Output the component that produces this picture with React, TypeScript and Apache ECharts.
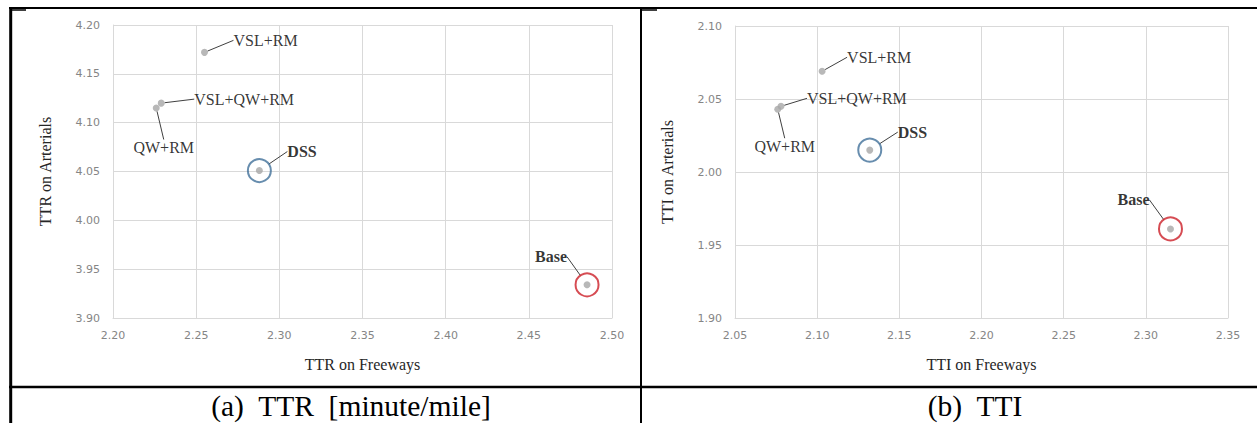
import React, { useEffect, useRef } from "react";
import * as echarts from "echarts";

// ---- data ----
const strategies = ["VSL+RM", "VSL+QW+RM", "QW+RM", "DSS", "Base"];
const ttrFreeways = [2.255, 2.229, 2.226, 2.288, 2.485];
const ttrArterials = [4.172, 4.12, 4.115, 4.051, 3.934];
const ttiFreeways = [2.103, 2.078, 2.076, 2.132, 2.315];
const ttiArterials = [2.069, 2.045, 2.043, 2.015, 1.961];

const ttrXTicks = [2.2, 2.25, 2.3, 2.35, 2.4, 2.45, 2.5];
const ttrYTicks = [3.9, 3.95, 4.0, 4.05, 4.1, 4.15, 4.2];
const ttiXTicks = [2.05, 2.1, 2.15, 2.2, 2.25, 2.3, 2.35];
const ttiYTicks = [1.9, 1.95, 2.0, 2.05, 2.1];

const captions = ["(a)  TTR  [minute/mile]", "(b)  TTI"];
const axisNames = [
  ["TTR on Freeways", "TTR on Arterials"],
  ["TTI on Freeways", "TTI on Arterials"],
];

// ---- styles / placement ----
const ringColors: Record<string, string> = { DSS: "#41709a", Base: "#cc1f28" };
const boldNames = ["DSS", "Base"];
const labelOffsets: [number, number, string][][] = [
  [[29, -12, "left"], [33, -4, "left"], [7.5, 39.5, "center"], [28, -19, "left"], [-20, -28, "right"]],
  [[25, -14, "left"], [26, -8, "left"], [7, 37, "center"], [28, -18, "left"], [-21, -29, "right"]],
];
const grids = [
  { left: 113, top: 25, width: 499, height: 293 },
  { left: 735, top: 26, width: 493, height: 292 },
];

const SERIF = "Liberation Serif";
const SANS = "DejaVu Sans";
const GRID = "#d9d9d9";

function makeAxis(ticks: number[], name: string, isY: boolean, idx: number) {
  return {
    type: "value",
    gridIndex: idx,
    min: ticks[0],
    max: ticks[ticks.length - 1],
    interval: 0.05,
    name,
    nameLocation: "middle",
    nameGap: isY ? 60 : 38.5,
    nameTextStyle: { fontFamily: SERIF, fontSize: 16, color: "#262626" },
    axisLine: { show: true, lineStyle: { color: GRID, width: 1 } },
    axisTick: { show: false },
    axisLabel: {
      margin: isY ? 13 : 12,
      fontFamily: SANS,
      fontSize: 11,
      color: "#858585",
      formatter: (v: number) => v.toFixed(2),
    },
    splitLine: { show: true, lineStyle: { color: GRID, width: 1 } },
  };
}

function makeSeries(xs: number[], ys: number[], idx: number) {
  const offs = labelOffsets[idx];
  const points = {
    type: "scatter",
    xAxisIndex: idx,
    yAxisIndex: idx,
    symbol: "circle",
    symbolSize: 7,
    itemStyle: { color: "#a6a6a6" },
    z: 2,
    silent: true,
    data: xs.map((x, i) => [x, ys[i]]),
  };
  const hosts = {
    type: "scatter",
    xAxisIndex: idx,
    yAxisIndex: idx,
    z: 3,
    silent: true,
    data: strategies.map((name, i) => {
      const ring = ringColors[name];
      return {
        name,
        value: [xs[i], ys[i]],
        symbol: "circle",
        symbolSize: ring ? 23 : 7,
        itemStyle: ring
          ? { color: "rgba(0,0,0,0)", borderColor: ring, borderWidth: 2 }
          : { color: "rgba(0,0,0,0)" },
        label: { fontWeight: boldNames.includes(name) ? "bold" : "normal" },
      };
    }),
    label: {
      show: true,
      formatter: "{b}",
      position: "inside",
      fontFamily: SERIF,
      fontSize: 16,
      color: "#000",
    },
    labelLine: { show: true, lineStyle: { color: "#404040", width: 1 } },
    labelLayout: (p: any) => {
      const o = offs[p.dataIndex];
      const cx = p.rect.x + p.rect.width / 2;
      const cy = p.rect.y + p.rect.height / 2;
      return { x: cx + o[0], y: cy + o[1], align: o[2], verticalAlign: "middle" };
    },
  };
  return [points, hosts];
}

export default function App() {
  const ref = useRef<HTMLDivElement>(null);
  useEffect(() => {
    if (!ref.current) return;
    const chart = echarts.init(ref.current, null, { renderer: "svg" });
    const option: any = {
      animation: false,
      backgroundColor: "#ffffff",
      grid: grids.map((g) => ({ ...g, containLabel: false })),
      xAxis: [
        makeAxis(ttrXTicks, axisNames[0][0], false, 0),
        makeAxis(ttiXTicks, axisNames[1][0], false, 1),
      ],
      yAxis: [
        makeAxis(ttrYTicks, axisNames[0][1], true, 0),
        makeAxis(ttiYTicks, axisNames[1][1], true, 1),
      ],
      series: [
        ...makeSeries(ttrFreeways, ttrArterials, 0),
        ...makeSeries(ttiFreeways, ttiArterials, 1),
      ],
      graphic: [
        // table borders
        { type: "line", silent: true, shape: { x1: 9, y1: 8, x2: 1257, y2: 8 }, style: { stroke: "#000", lineWidth: 2 } },
        { type: "line", silent: true, shape: { x1: 10.7, y1: 7, x2: 10.7, y2: 423 }, style: { stroke: "#000", lineWidth: 3 } },
        { type: "line", silent: true, shape: { x1: 641, y1: 8, x2: 641, y2: 423 }, style: { stroke: "#000", lineWidth: 2 } },
        { type: "line", silent: true, shape: { x1: 9, y1: 387, x2: 1257, y2: 387 }, style: { stroke: "#000", lineWidth: 2.5 } },
        { type: "line", silent: true, shape: { x1: 12, y1: 10, x2: 26, y2: 10 }, style: { stroke: "#000", lineWidth: 1.5 } },
        { type: "line", silent: true, shape: { x1: 642, y1: 10, x2: 657, y2: 10 }, style: { stroke: "#000", lineWidth: 1.5 } },
        {
          type: "text",
          silent: true,
          x: 351,
          y: 406,
          style: { text: captions[0], fontFamily: SERIF, fontSize: 29.5, fill: "#000", align: "center", verticalAlign: "middle" },
        },
        {
          type: "text",
          silent: true,
          x: 975,
          y: 406,
          style: { text: captions[1], fontFamily: SERIF, fontSize: 29.5, fill: "#000", align: "center", verticalAlign: "middle" },
        },
      ],
    };
    chart.setOption(option);
    return () => chart.dispose();
  }, []);
  return (
    <div
      ref={ref}
      style={{ position: "absolute", left: 0, top: 0, width: 1257, height: 423, background: "#fff" }}
    />
  );
}
